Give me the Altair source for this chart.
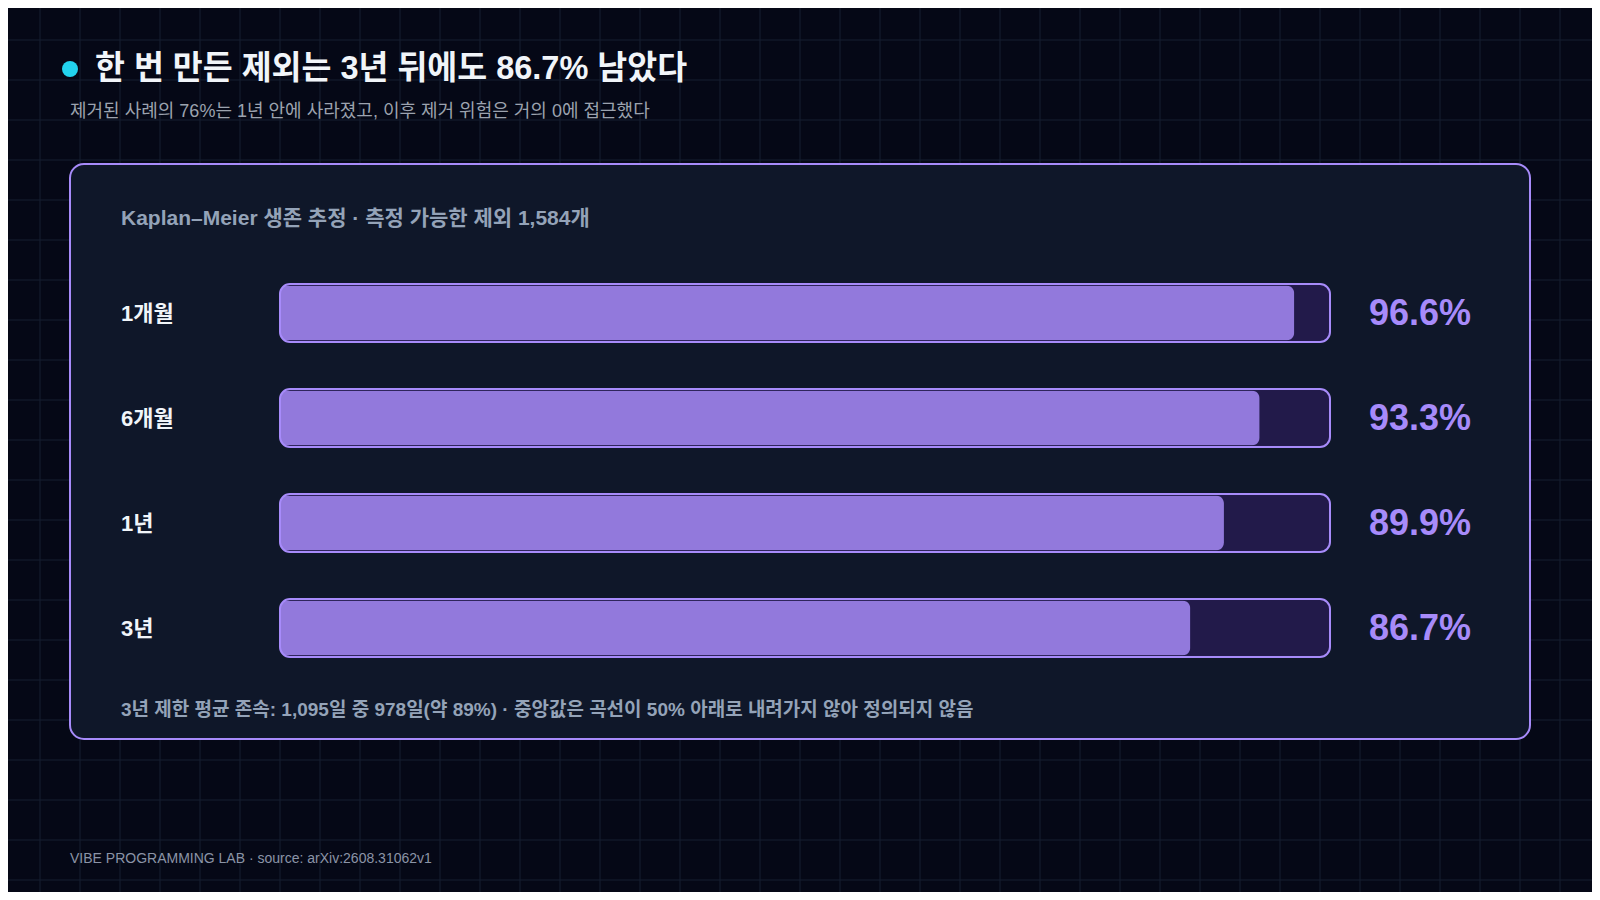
"""Kaplan-Meier survival card: how many exclusions survive over time."""
import altair as alt
import pandas as pd

# --- data -------------------------------------------------------------
periods = ["1개월", "6개월", "1년", "3년"]
survival = [96.6, 93.3, 89.9, 86.7]
value_labels = ["96.6%", "93.3%", "89.9%", "86.7%"]

title_text = "한 번 만든 제외는 3년 뒤에도 86.7% 남았다"
subtitle_text = "제거된 사례의 76%는 1년 안에 사라졌고, 이후 제거 위험은 거의 0에 접근했다"
card_heading = "Kaplan–Meier 생존 추정 · 측정 가능한 제외 1,584개"
footnote_text = "3년 제한 평균 존속: 1,095일 중 978일(약 89%) · 중앙값은 곡선이 50% 아래로 내려가지 않아 정의되지 않음"
source_text = "VIBE PROGRAMMING LAB · source: arXiv:2608.31062v1"

# --- look -------------------------------------------------------------
W, H = 1584, 884
FONT = "Liberation Sans, Noto Sans CJK KR, sans-serif"
BG = "#050816"
GRID = "#161e30"
CARD = "#0f1729"
VIOLET = "#a78bfa"
FILL = "#9279dc"
TRACK = "#221a4a"
MUTED = "#94a3b8"
WHITE = "#f1f5f9"

one_row = alt.Data(values=[{}])


def make_grid() -> alt.LayerChart:
    """Faint 40px grid over the page background."""
    vx = pd.DataFrame({"gx": list(range(32, W, 40))})
    hy = pd.DataFrame({"gy": list(range(32, H, 40))})
    vertical = alt.Chart(vx).mark_rule(color=GRID, strokeWidth=1).encode(
        x=alt.X("gx:Q", scale=None, axis=None),
        y=alt.value(0), y2=alt.value(H)
    )
    horizontal = alt.Chart(hy).mark_rule(color=GRID, strokeWidth=1).encode(
        y=alt.Y("gy:Q", scale=None, axis=None),
        x=alt.value(0), x2=alt.value(W)
    )
    return alt.layer(vertical, horizontal)


def make_text(text, x, y, size, colour, weight="normal", align="left"):
    """One line of free text placed on the page."""
    return alt.Chart(one_row).mark_text(
        text=text, font=FONT, fontSize=size, fontWeight=weight,
        color=colour, align=align, baseline="alphabetic"
    ).encode(x=alt.value(x), y=alt.value(y))


def make_card() -> alt.Chart:
    """Rounded panel that holds the bars."""
    return alt.Chart(one_row).mark_rect(
        fill=CARD, stroke=VIOLET, strokeWidth=2, cornerRadius=14
    ).encode(x=alt.value(62), x2=alt.value(1522), y=alt.value(156), y2=alt.value(731))


def make_bars(df: pd.DataFrame) -> alt.LayerChart:
    """Track, fill and labels for each survival period."""
    x_scale = alt.Scale(domain=[0, 100], range=[272, 1322])
    y_scale = alt.Scale(domain=periods, range=[276, 649],
                        paddingInner=0.4476, paddingOuter=0)
    y_enc = alt.Y("period:N", scale=y_scale, axis=None, sort=periods)
    base = alt.Chart(df)

    track = base.mark_bar(fill=TRACK, cornerRadius=10).encode(
        x=alt.X("full:Q", scale=x_scale, axis=None), y=y_enc
    )
    fill = base.mark_bar(fill=FILL, cornerRadius=8, height=55).encode(
        x=alt.X("survival:Q", scale=x_scale, axis=None), y=y_enc
    )
    outline = base.mark_bar(fill="transparent", stroke=VIOLET, strokeWidth=2,
                            cornerRadius=10).encode(
        x=alt.X("full:Q", scale=x_scale, axis=None), y=y_enc
    )
    row_labels = base.mark_text(
        font=FONT, fontSize=22, fontWeight="bold", color=WHITE,
        align="left", baseline="middle", dy=1
    ).encode(x=alt.value(113), y=y_enc, text="period:N")
    values = base.mark_text(
        font=FONT, fontSize=36, fontWeight="bold", color=VIOLET,
        align="right", baseline="middle", dy=1
    ).encode(x=alt.value(1463), y=y_enc, text="label:N")
    return alt.layer(track, fill, outline, row_labels, values)


bars_df = pd.DataFrame({
    "period": periods,
    "survival": survival,
    "label": value_labels,
    "full": [100] * len(periods),
})

dot = alt.Chart(one_row).mark_circle(size=256, color="#22d3ee", opacity=1).encode(
    x=alt.value(62), y=alt.value(61)
)

chart = alt.layer(
    make_grid(),
    dot,
    make_text(title_text, 87, 71, 32.5, WHITE, "bold"),
    make_text(subtitle_text, 62, 109, 18, "#9ca3af"),
    make_card(),
    make_text(card_heading, 113, 217, 21, MUTED, "bold"),
    make_bars(bars_df),
    make_text(footnote_text, 113, 708, 19, MUTED, "bold"),
    make_text(source_text, 62, 855, 14, "#8b94a7"),
).resolve_scale(
    x="independent", y="independent"
).properties(
    width=W, height=H, padding=0,
    autosize=alt.AutoSizeParams(type="none"),
    background=BG
).configure_view(stroke=None)

chart.save("out.html", embed_options={"renderer": "svg", "actions": False})
